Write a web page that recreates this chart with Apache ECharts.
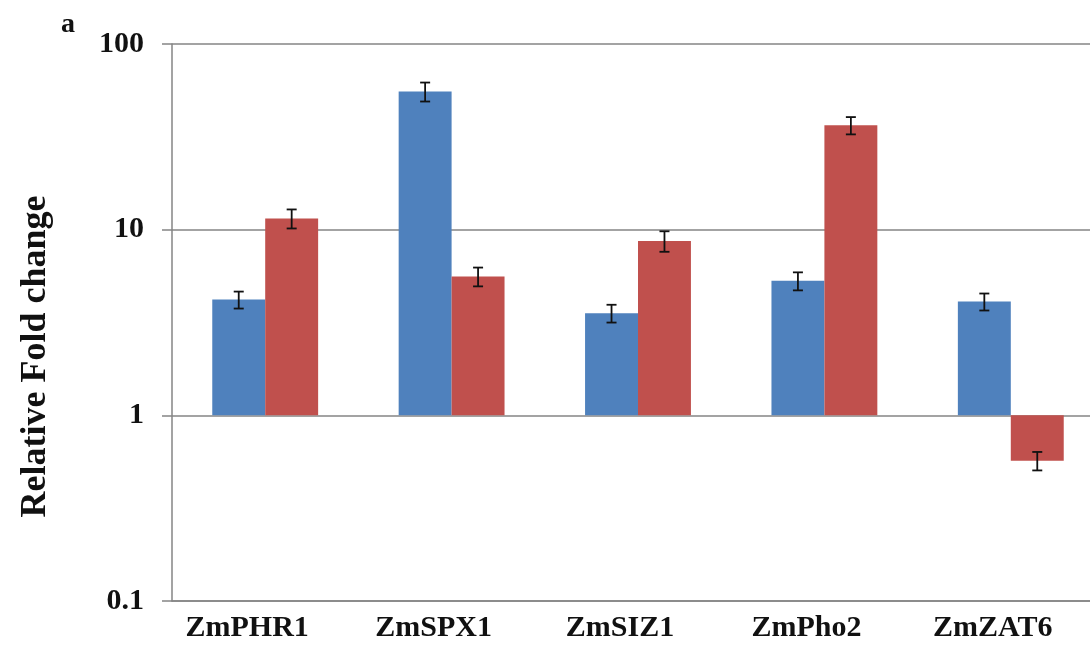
<!DOCTYPE html>
<html>
<head>
<meta charset="utf-8">
<title>Relative Fold change</title>
<script src="https://cdn.jsdelivr.net/npm/echarts@6/dist/echarts.min.js"></script>
<style>
    html, body { margin: 0; padding: 0; background: #fff; }
    #main { width: 1090px; height: 647px; }
</style>
</head>
<body>
<div id="main"></div>
<script type="text/javascript">
    // genes on the x axis
    var categories = ['ZmPHR1', 'ZmSPX1', 'ZmSIZ1', 'ZmPho2', 'ZmZAT6'];
    // fold change (log scale)
    var blueValues = [4.2, 55.5, 3.55, 5.3, 4.1];
    var redValues = [11.5, 5.6, 8.7, 36.5, 0.57];
    // error bars (+/-)
    var blueErrors = [0.44, 6.5, 0.39, 0.59, 0.43];
    var redErrors = [1.35, 0.65, 1.1, 3.9, 0.065];
    var yTicks = [0.1, 1, 10, 100];

    var serif = '"Liberation Serif", "Times New Roman", serif';

    function barItem(offsetSign, color) {
        return function (params, api) {
            var idx = api.value(0);
            var val = api.value(1);
            var err = api.value(2);
            var catW = api.size([1, 1])[0];
            var bw = catW * 0.284;
            var base = api.coord([idx, 1]);
            var top = api.coord([idx, val]);
            var x0 = base[0] + (offsetSign < 0 ? -bw : 0);
            var cx = x0 + bw / 2;
            var yHi = api.coord([idx, val + err])[1];
            var yLo = api.coord([idx, val - err])[1];
            var y0 = Math.min(base[1], top[1]);
            var h = Math.abs(base[1] - top[1]);
            return {
                type: 'group',
                children: [
                    {
                        type: 'rect',
                        shape: { x: x0, y: y0, width: bw, height: h },
                        style: { fill: color }
                    },
                    {
                        type: 'line',
                        shape: { x1: cx, y1: yHi, x2: cx, y2: yLo },
                        style: { stroke: '#111', lineWidth: 1.8 }
                    },
                    {
                        type: 'line',
                        shape: { x1: cx - 5, y1: yHi, x2: cx + 5, y2: yHi },
                        style: { stroke: '#111', lineWidth: 1.8 }
                    },
                    {
                        type: 'line',
                        shape: { x1: cx - 5, y1: yLo, x2: cx + 5, y2: yLo },
                        style: { stroke: '#111', lineWidth: 1.8 }
                    }
                ]
            };
        };
    }

    var myChart = echarts.init(document.getElementById('main'));

    var option = {
        animation: false,
        backgroundColor: '#fff',
        title: {
            text: 'a',
            left: 56,
            top: 6,
            textStyle: { fontFamily: serif, fontWeight: 'bold', fontSize: 28, color: '#111' }
        },
        grid: { left: 172, top: 44, bottom: 46, width: 932, outerBoundsMode: 'none', containLabel: false },
        xAxis: {
            type: 'category',
            data: categories,
            boundaryGap: true,
            axisLine: { lineStyle: { color: '#858585', width: 1.5 } },
            axisTick: { show: false },
            axisLabel: {
                fontFamily: serif,
                fontWeight: 'bold',
                fontSize: 30,
                color: '#111',
                margin: 12,
                padding: [0, 36, 0, 0]
            }
        },
        yAxis: {
            type: 'log',
            logBase: 10,
            min: 0.1,
            max: 100,
            name: 'Relative Fold change',
            nameLocation: 'middle',
            nameGap: 118,
            nameTextStyle: {
                fontFamily: serif,
                fontWeight: 'bold',
                fontSize: 36,
                color: '#111',
                padding: [0, 68, 0, 0]
            },
            axisLine: { show: true, lineStyle: { color: '#858585', width: 1.5 } },
            axisTick: { show: true, inside: false, length: 10, lineStyle: { color: '#858585', width: 1.5 } },
            splitLine: { show: true, lineStyle: { color: '#858585', width: 1.5 } },
            axisLabel: {
                fontFamily: serif,
                fontWeight: 'bold',
                fontSize: 30,
                color: '#111',
                margin: 28,
                formatter: function (v) {
                    for (var i = 0; i < yTicks.length; i++) {
                        if (Math.abs(v - yTicks[i]) < 1e-9) return String(yTicks[i]);
                    }
                    return '';
                }
            }
        },
        series: [
            {
                type: 'custom',
                name: 'blue',
                renderItem: barItem(-1, '#4F81BD'),
                encode: { x: 0, y: 1 },
                data: blueValues.map(function (v, i) { return [i, v, blueErrors[i]]; })
            },
            {
                type: 'custom',
                name: 'red',
                renderItem: barItem(1, '#C0504D'),
                encode: { x: 0, y: 1 },
                data: redValues.map(function (v, i) { return [i, v, redErrors[i]]; })
            }
        ]
    };

    myChart.setOption(option);
</script>
</body>
</html>
